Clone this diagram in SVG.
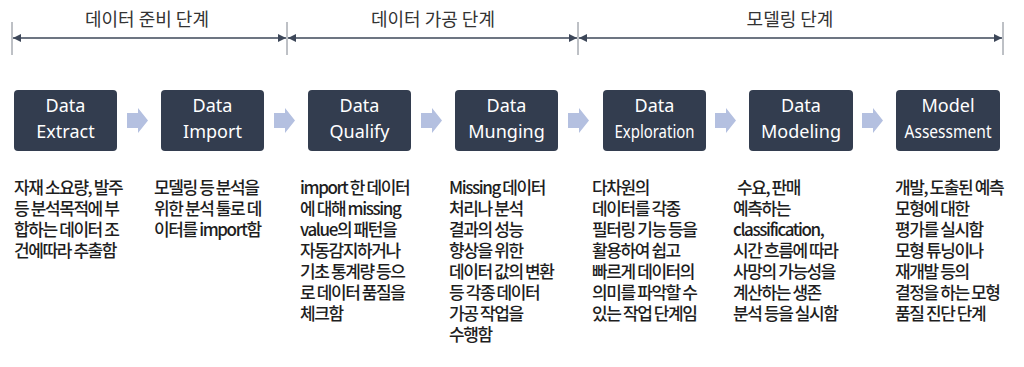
<svg xmlns="http://www.w3.org/2000/svg" width="1024" height="367" viewBox="0 0 1024 367">
<defs>
<style>
.phase{font-family:"Noto Sans CJK KR","Noto Sans",sans-serif;font-size:18px;fill:#333333;text-anchor:middle}
.box{fill:#333d4f}
.bt{font-family:"Noto Sans","Noto Sans CJK KR",sans-serif;font-size:18px;fill:#ffffff;text-anchor:middle}
.desc{font-family:"Noto Sans CJK KR",sans-serif;font-size:17px;font-weight:500;fill:#1e1e1e;letter-spacing:-1.4px}
.tick{stroke:#7d828c;stroke-width:1}
.span{stroke:#3d4759;stroke-width:1.5;fill:none}
.flow{fill:#b4c0e0}
</style>
<marker id="ah" viewBox="0 0 10 10" refX="10" refY="5" markerWidth="8" markerHeight="8" orient="auto-start-reverse" markerUnits="userSpaceOnUse">
<path d="M0,0 L10,5 L0,10 z" fill="#3d4759"/>
</marker>
</defs>
<rect width="1024" height="367" fill="#ffffff"/>

<g id="phases">
<text class="phase" x="147" y="26">데이터 준비 단계</text>
<text class="phase" x="433" y="26">데이터 가공 단계</text>
<text class="phase" x="790" y="26">모델링 단계</text>
</g>

<g id="connectors">
<line class="tick" x1="12" y1="22" x2="12" y2="55"/>
<line class="tick" x1="287" y1="22" x2="287" y2="55"/>
<line class="tick" x1="578" y1="22" x2="578" y2="55"/>
<line class="tick" x1="1003" y1="22" x2="1003" y2="55"/>
<line class="span" x1="13" y1="38" x2="286" y2="38" marker-start="url(#ah)" marker-end="url(#ah)"/>
<line class="span" x1="288" y1="38" x2="577" y2="38" marker-start="url(#ah)" marker-end="url(#ah)"/>
<line class="span" x1="579" y1="38" x2="1002" y2="38" marker-start="url(#ah)" marker-end="url(#ah)"/>
<path class="flow" d="M127,113 H138 V108 L148,120.5 L138,133 V128 H127 z"/>
<path class="flow" d="M274,113 H285 V108 L295,120.5 L285,133 V128 H274 z"/>
<path class="flow" d="M421,113 H432 V108 L442,120.5 L432,133 V128 H421 z"/>
<path class="flow" d="M568,113 H579 V108 L589,120.5 L579,133 V128 H568 z"/>
<path class="flow" d="M715,113 H726 V108 L736,120.5 L726,133 V128 H715 z"/>
<path class="flow" d="M862,113 H873 V108 L883,120.5 L873,133 V128 H862 z"/>
</g>

<g id="n1">
<rect class="box" x="14" y="90" width="103" height="61" rx="4"/>
<text class="bt" x="65.5" y="112">Data</text>
<text class="bt" x="65.5" y="138">Extract</text>
<text class="desc"><tspan x="14" y="194">자재 소요량, 발주</tspan><tspan x="14" y="215">등 분석목적에 부</tspan><tspan x="14" y="236">합하는 데이터 조</tspan><tspan x="14" y="257">건에따라 추출함</tspan></text>
</g>
<g id="n2">
<rect class="box" x="161" y="90" width="103" height="61" rx="4"/>
<text class="bt" x="212.5" y="112">Data</text>
<text class="bt" x="212.5" y="138">Import</text>
<text class="desc"><tspan x="154" y="194">모델링 등 분석을</tspan><tspan x="154" y="215">위한 분석 툴로 데</tspan><tspan x="154" y="236">이터를 import함</tspan></text>
</g>
<g id="n3">
<rect class="box" x="308" y="90" width="103" height="61" rx="4"/>
<text class="bt" x="359.5" y="112">Data</text>
<text class="bt" x="359.5" y="138">Qualify</text>
<text class="desc"><tspan x="300" y="194">import 한 데이터</tspan><tspan x="300" y="215">에 대해 missing</tspan><tspan x="300" y="236">value의 패턴을</tspan><tspan x="300" y="257">자동감지하거나</tspan><tspan x="300" y="278">기초 통계량 등으</tspan><tspan x="300" y="299">로 데이터 품질을</tspan><tspan x="300" y="320">체크함</tspan></text>
</g>
<g id="n4">
<rect class="box" x="455" y="90" width="103" height="61" rx="4"/>
<text class="bt" x="506.5" y="112">Data</text>
<text class="bt" x="506.5" y="138">Munging</text>
<text class="desc"><tspan x="449" y="194">Missing 데이터</tspan><tspan x="449" y="215">처리나 분석</tspan><tspan x="449" y="236">결과의 성능</tspan><tspan x="449" y="257">향상을 위한</tspan><tspan x="449" y="278">데이터 값의 변환</tspan><tspan x="449" y="299">등 각종 데이터</tspan><tspan x="449" y="320">가공 작업을</tspan><tspan x="449" y="341">수행함</tspan></text>
</g>
<g id="n5">
<rect class="box" x="603" y="90" width="103" height="61" rx="4"/>
<text class="bt" x="654.5" y="112">Data</text>
<text class="bt" x="654.5" y="138" textLength="80" lengthAdjust="spacingAndGlyphs">Exploration</text>
<text class="desc"><tspan x="592" y="194">다차원의</tspan><tspan x="592" y="215">데이터를 각종</tspan><tspan x="592" y="236">필터링 기능 등을</tspan><tspan x="592" y="257">활용하여 쉽고</tspan><tspan x="592" y="278">빠르게 데이터의</tspan><tspan x="592" y="299">의미를 파악할 수</tspan><tspan x="592" y="320">있는 작업 단계임</tspan></text>
</g>
<g id="n6">
<rect class="box" x="749" y="90" width="104" height="61" rx="4"/>
<text class="bt" x="801" y="112">Data</text>
<text class="bt" x="801" y="138">Modeling</text>
<text class="desc"><tspan x="737" y="194">수요, 판매</tspan><tspan x="733" y="215">예측하는</tspan><tspan x="733" y="236">classification,</tspan><tspan x="733" y="257">시간 흐름에 따라</tspan><tspan x="733" y="278">사망의 가능성을</tspan><tspan x="733" y="299">계산하는 생존</tspan><tspan x="733" y="320">분석 등을 실시함</tspan></text>
</g>
<g id="n7">
<rect class="box" x="896" y="90" width="104" height="61" rx="4"/>
<text class="bt" x="948" y="112">Model</text>
<text class="bt" x="948" y="138" textLength="87" lengthAdjust="spacingAndGlyphs">Assessment</text>
<text class="desc"><tspan x="895" y="194">개발, 도출된 예측</tspan><tspan x="895" y="215">모형에 대한</tspan><tspan x="895" y="236">평가를 실시함</tspan><tspan x="895" y="257">모형 튜닝이나</tspan><tspan x="895" y="278">재개발 등의</tspan><tspan x="895" y="299">결정을 하는 모형</tspan><tspan x="895" y="320">품질 진단 단계</tspan></text>
</g>
</svg>
